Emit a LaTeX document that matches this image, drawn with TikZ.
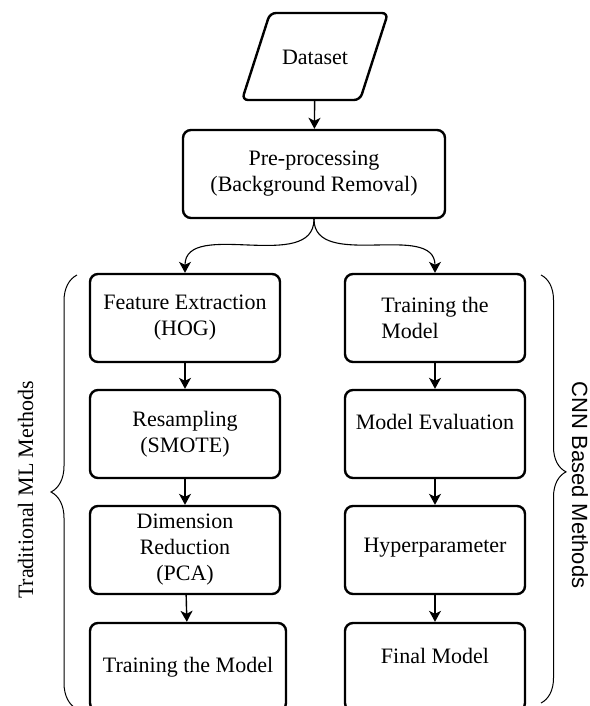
\documentclass[tikz,border=0pt]{standalone}
\usepackage{fontspec}
\setmainfont{Liberation Serif}
\newfontfamily\sidefont{Liberation Sans}
\usetikzlibrary{arrows.meta,decorations.pathreplacing}

\tikzset{
  box/.style={draw, line width=2.4pt, rounded corners=8pt, align=center, minimum height=88pt, inner sep=2pt},
  arr/.style={-{Stealth[length=11pt,width=12pt,inset=3pt]}, line width=1.4pt},
  curv/.style={-{Stealth[length=11pt,width=12pt,inset=3pt]}, line width=1.1pt},
}

\begin{document}
\begin{tikzpicture}[x=1pt,y=-1pt,font=\fontsize{22}{26}\selectfont]
        \useasboundingbox (0,0) rectangle (589,706);

        % input data
        \node (data) at (315,57) [minimum width=120pt, minimum height=87pt] {Dataset};
        \draw[line width=2.4pt, rounded corners=6pt] (270,13) -- (388,13) -- (360,100) -- (242,100) -- cycle;

        \node[box, minimum width=262pt] (pre) at (314,174) {Pre-processing\\(Background Removal)};

        % traditional column
        \node[box, minimum width=190pt] (hog) at (185,318) {Feature Extraction\\(HOG)};
        \node[box, minimum width=190pt] (smote) at (185,434) {Resampling\\(SMOTE)};
        \node[box, minimum width=190pt] (pca) at (185,550) {Dimension\\Reduction\\(PCA)};
        \node[box, minimum width=196pt] (svm) at (188,667) {Training the Model};

        % cnn column
        \node[box, minimum width=180pt, align=left] (train) at (435,318) {Training the\\ Model};
        \node[box, minimum width=180pt, text depth=24pt] (eval) at (435,434) {Model Evaluation};
        \node[box, minimum width=180pt, text depth=10pt] (hyper) at (435,550) {Hyperparameter};
        \node[box, minimum width=180pt, text depth=22pt] (final) at (435,667) {Final Model};

        \draw[arr] (data) -- (pre);
        \draw[curv] (pre.south) to[out=-90,in=90] (hog.north);
        \draw[curv] (pre.south) to[out=-90,in=90] (train.north);

        \draw[arr] (hog) -- (smote);
        \draw[arr] (smote) -- (pca);
        \draw[arr] (pca) -- (svm);

        \draw[arr] (train) -- (eval);
        \draw[arr] (eval) -- (hyper);
        \draw[arr] (hyper) -- (final);

        % braces
        \draw[decorate, decoration={brace, amplitude=26pt}, line width=1pt] (77,709) -- (77,275);
        \node[rotate=90, anchor=base] (trad) at (33,490) {Traditional ML Methods};

        \draw[decorate, decoration={brace, amplitude=25pt, aspect=0.46}, line width=1pt] (541,275) -- (541,703);
        \node[rotate=-90, anchor=base, font=\sidefont\fontsize{22}{26}\selectfont] (cnn) at (572,485) {CNN Based Methods};

    \end{tikzpicture}
\end{document}
